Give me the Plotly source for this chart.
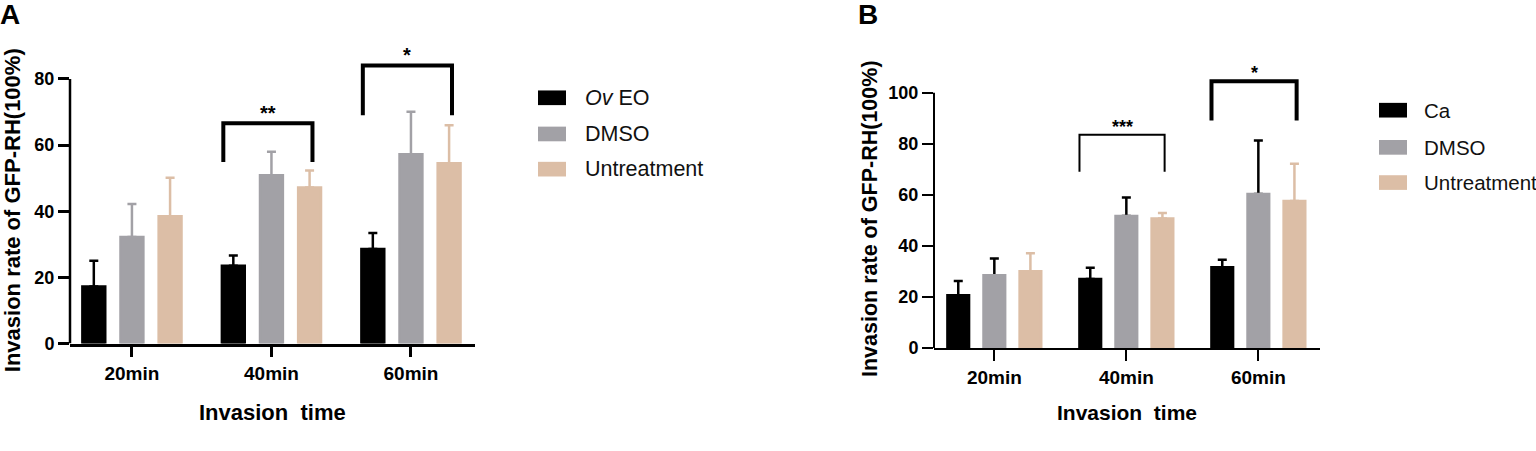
import plotly.graph_objects as go

times = ["20min", "40min", "60min"]

# panel A (Ov EO experiment)
ov_eo = [17.2, 23.5, 28.6]
ov_eo_sd = [7.8, 3.1, 4.8]
dmso_a = [32.2, 50.9, 57.2]
dmso_a_sd = [10.0, 7.1, 12.9]
untr_a = [38.5, 47.2, 54.5]
untr_a_sd = [11.6, 5.1, 11.5]

# panel B (Ca experiment)
ca = [20.7, 27.1, 31.7]
ca_sd = [5.6, 4.4, 2.9]
dmso_b = [28.5, 51.8, 60.4]
dmso_b_sd = [6.6, 7.2, 20.9]
untr_b = [30.1, 50.8, 57.6]
untr_b_sd = [7.1, 2.1, 14.6]

# significance brackets
sig_a_idx = [1, 2]
sig_a_top = [66.6, 84.1]
sig_a_foot = [54.9, 69.0]
sig_a_text = ["**", "*"]

sig_b_idx = [1, 2]
sig_b_top = [83.6, 104.5]
sig_b_foot = [69.1, 89.2]
sig_b_text = ["***", "*"]

yticks_a = [0, 20, 40, 60, 80]
yticks_b = [0, 20, 40, 60, 80, 100]

BLACK = "#000000"
GRAY = "#a2a1a6"
TAN = "#dcbea6"
FONT = "Liberation Sans"

W, H = 1536, 451


def px(x):
    return x / W


def py(y):
    return 1 - y / H


fig = go.Figure()

series_a = [
    ("<i>Ov</i> EO", ov_eo, ov_eo_sd, BLACK, BLACK),
    ("DMSO", dmso_a, dmso_a_sd, GRAY, GRAY),
    ("Untreatment", untr_a, untr_a_sd, TAN, TAN),
]
series_b = [
    ("Ca", ca, ca_sd, BLACK, BLACK),
    ("DMSO", dmso_b, dmso_b_sd, GRAY, BLACK),
    ("Untreatment", untr_b, untr_b_sd, TAN, TAN),
]

for ax, series in (("", series_a), ("2", series_b)):
    for name, vals, sd, col, ecol in series:
        grp = name + ax
        # error bar first, the bar drawn over it hides the lower cap
        fig.add_trace(go.Bar(
            x=times, y=vals, xaxis="x" + ax, yaxis="y" + ax,
            offsetgroup=grp, marker_color="rgba(0,0,0,0)",
            error_y=dict(type="data", array=sd, arrayminus=[0] * len(sd),
                         symmetric=False, color=ecol, thickness=2.5, width=4.5),
            showlegend=False, hoverinfo="skip",
        ))
        fig.add_trace(go.Bar(
            x=times, y=vals, xaxis="x" + ax, yaxis="y" + ax,
            offsetgroup=grp, marker=dict(color=col, line=dict(color=col, width=2.5)),
            name=name, showlegend=False,
        ))

tickfont = dict(family=FONT, size=19, color="black", weight="bold")
xcommon = dict(type="category", showline=True, linecolor="black", ticks="outside",
               ticklen=11, tickcolor="black", showgrid=False, zeroline=False,
               tickfont=tickfont)
ycommon = dict(showline=False, ticks="outside", ticklen=11, tickcolor="black",
               showgrid=False, zeroline=False, tickfont=dict(tickfont, size=18))

fig.update_layout(
    width=W, height=H,
    margin=dict(l=0, r=0, t=0, b=0),
    paper_bgcolor="white", plot_bgcolor="white",
    barmode="group", bargap=0.18, bargroupgap=0.40,
    showlegend=False,
    xaxis=dict(xcommon, domain=[px(70), px(475)], range=[-0.444, 2.459],
               linewidth=2.5, tickwidth=2.5, anchor="y"),
    yaxis=dict(ycommon, domain=[py(351.3), py(30)], range=[0, 95],
               tickvals=yticks_a, tickwidth=2.5, anchor="x"),
    xaxis2=dict(xcommon, domain=[px(934), px(1320)], range=[-0.457, 2.467],
                linewidth=2, tickwidth=2, anchor="y2"),
    yaxis2=dict(ycommon, domain=[py(356), py(55)], range=[0, 115.3],
                tickvals=yticks_b, tickwidth=2, anchor="x2"),
)

shapes = []
annotations = []

# y axis lines stop at the last tick
shapes.append(dict(type="line", xref="x domain", yref="y", x0=0, x1=0,
                   y0=yticks_a[0], y1=yticks_a[-1], line=dict(color="black", width=2.5)))
shapes.append(dict(type="line", xref="x2 domain", yref="y2", x0=0, x1=0,
                   y0=yticks_b[0], y1=yticks_b[-1], line=dict(color="black", width=2)))


def bracket(ax, idx, top, foot, text, lw, left, right, fsize, yshift):
    x0, x1 = idx + left, idx + right
    shapes.append(dict(
        type="path", xref="x" + ax, yref="y" + ax,
        path=f"M {x0},{foot} L {x0},{top} L {x1},{top} L {x1},{foot}",
        line=dict(color="black", width=lw)))
    annotations.append(dict(
        x=(x0 + x1) / 2, y=top, xref="x" + ax, yref="y" + ax, text=text,
        showarrow=False, yanchor="middle", yshift=yshift,
        font=dict(family=FONT, size=fsize, color="black", weight="bold")))


for i, t, f, s in zip(sig_a_idx, sig_a_top, sig_a_foot, sig_a_text):
    bracket("", i, t, f, s, 4, -0.345, 0.294, 20, 10)
for k, (i, t, f, s) in enumerate(zip(sig_b_idx, sig_b_top, sig_b_foot, sig_b_text)):
    bracket("2", i, t, f, s, 2 if k == 0 else 4, -0.355, 0.29, 18, 8)

# axis titles
for (xc, yc, size) in ((12, 215, 22), (870, 224, 21.5)):
    annotations.append(dict(x=px(xc), y=py(yc), xref="paper", yref="paper",
                            text="Invasion rate of GFP-RH(100%)", textangle=-90,
                            showarrow=False, xanchor="center", yanchor="middle",
                            font=dict(family=FONT, size=size, color="black", weight="bold")))
for (xc, yc, size) in ((272, 422, 22), (1126.7, 421.7, 21)):
    annotations.append(dict(x=px(xc), y=py(yc), xref="paper", yref="paper",
                            text="Invasion  time", showarrow=False,
                            xanchor="center", yanchor="middle",
                            font=dict(family=FONT, size=size, color="black", weight="bold")))

# legends
for (x_sw, x_txt, rows, series, fsize) in (
        (538, 583, [100, 137, 173], series_a, 21.5),
        (1379, 1422, [112.7, 150.7, 186.7], series_b, 20.5)):
    for yc, (name, _, _, col, _) in zip(rows, series):
        shapes.append(dict(type="rect", xref="paper", yref="paper",
                           x0=px(x_sw), x1=px(x_sw + 28), y0=py(yc + 7.5), y1=py(yc - 7.5),
                           fillcolor=col, line_width=0))
        annotations.append(dict(x=px(x_txt), y=py(yc), xref="paper", yref="paper",
                                text=name, showarrow=False, xanchor="left", yanchor="middle",
                                font=dict(family=FONT, size=fsize, color="#111111")))

# panel letters
for letter, xc in (("A", 10), ("B", 867.5)):
    annotations.append(dict(x=px(xc), y=py(15), xref="paper", yref="paper", text=letter,
                            showarrow=False, xanchor="center", yanchor="middle",
                            font=dict(family=FONT, size=28, color="black", weight="bold")))

fig.update_layout(shapes=shapes, annotations=annotations)

fig.write_html("out.html", config={"displayModeBar": False},
               post_script="document.body.style.margin='0';")
